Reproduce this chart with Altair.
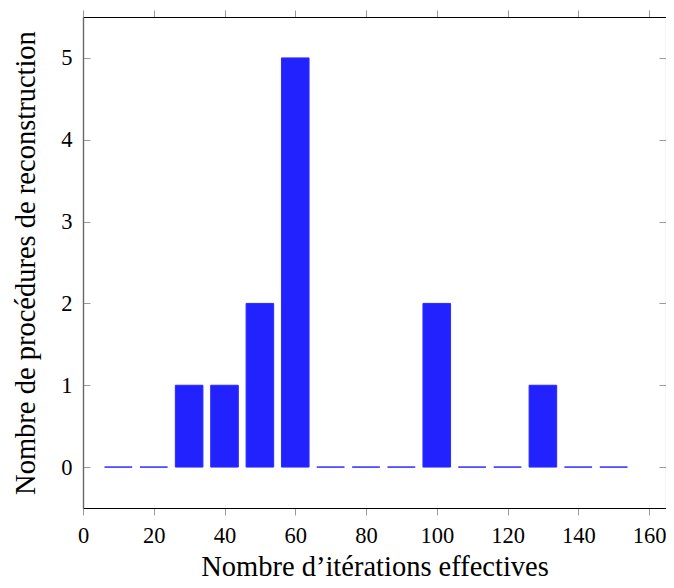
import altair as alt
import pandas as pd

iterations = [10, 20, 30, 40, 50, 60, 70, 80, 90, 100, 110, 120, 130, 140, 150]
counts = [0, 0, 1, 1, 2, 5, 0, 0, 0, 2, 0, 0, 1, 0, 0]
x_ticks = [0, 20, 40, 60, 80, 100, 120, 140, 160]
y_ticks = [0, 1, 2, 3, 4, 5]

HALF = 3.9
df = pd.DataFrame({"it": iterations, "n": counts})
df["x0"] = df["it"] - HALF
df["x1"] = df["it"] + HALF
df["zero"] = 0

W, H = 583, 491
FONT = "Liberation Serif"
LBL = 22.5
TTL = 28.5
xs = alt.Scale(domain=[0, 164.8], nice=False, zero=False)
ys = alt.Scale(domain=[-0.5, 5.5], nice=False, zero=False)

base = alt.Chart(df)

bars = base.mark_rect(fill="#2222ff", stroke="#2a2aff", strokeWidth=1).encode(
    x=alt.X("x0:Q", scale=xs, axis=alt.Axis(
        orient="bottom", values=x_ticks, title="Nombre d’itérations effectives",
        domainColor="black", domainWidth=1.2, tickColor="#999999", tickSize=7,
        grid=False, labelFontSize=LBL, titleFontSize=TTL, labelFont=FONT, titleFont=FONT,
        labelColor="black", titleColor="black", labelPadding=9, titlePadding=6,
        labelFlush=False, titleFontWeight="normal")),
    x2="x1:Q",
    y=alt.Y("zero:Q", scale=ys, axis=alt.Axis(
        orient="left", values=y_ticks, title="Nombre de procédures de reconstruction",
        domainColor="#666666", domainWidth=1.2, ticks=False, grid=False,
        labelFontSize=LBL, titleFontSize=TTL, labelFont=FONT, titleFont=FONT,
        labelColor="black", titleColor="black", labelPadding=11, titlePadding=20,
        titleFontWeight="normal")),
    y2="n:Q",
)

frame1 = base.mark_rect(opacity=0).encode(
    x=alt.X("x0:Q", scale=xs, axis=alt.Axis(
        orient="top", values=x_ticks, labels=False, title=None,
        domainColor="black", domainWidth=1.2, tickColor="#999999", tickSize=7, grid=False)),
    x2="x1:Q",
    y=alt.Y("zero:Q", scale=ys, axis=alt.Axis(
        orient="right", offset=-W, values=y_ticks, labels=False, title=None,
        domainColor="#666666", domainWidth=1.2, tickColor="#999999", tickSize=7, grid=False)),
    y2="n:Q",
)

frame2 = base.mark_rect(opacity=0).encode(
    x=alt.X("x0:Q", scale=xs, axis=None),
    x2="x1:Q",
    y=alt.Y("zero:Q", scale=ys, axis=alt.Axis(
        orient="left", offset=-W, values=y_ticks, labels=False, title=None,
        domainColor="#999999", domainWidth=1.2, tickColor="#999999", tickSize=7, grid=False)),
    y2="n:Q",
)

chart = alt.layer(bars, frame1, frame2).resolve_axis(
    x="independent", y="independent"
).properties(
    width=W, height=H,
    autosize=alt.AutoSizeParams(type="none"),
    padding={"left": 75, "top": 9, "right": 0, "bottom": 79},
).configure_view(stroke=None)

chart.save("out.html", embed_options={"renderer": "svg", "actions": False})
